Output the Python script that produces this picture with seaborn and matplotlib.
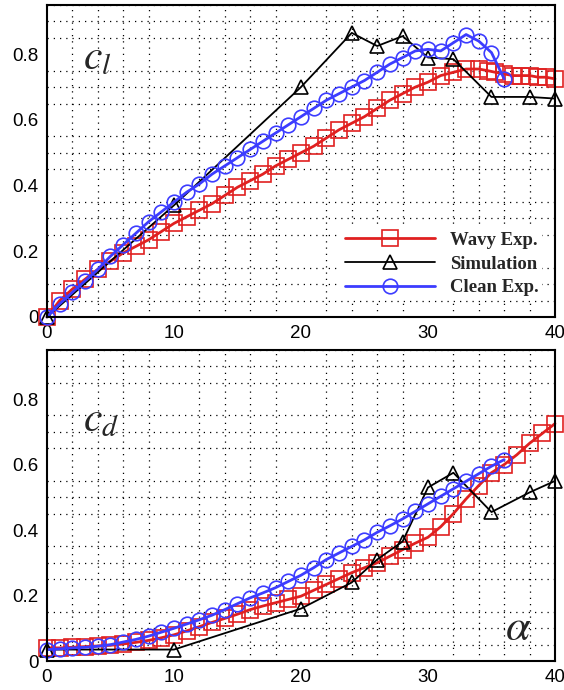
import matplotlib
matplotlib.use("Agg")
import matplotlib.pyplot as plt
from matplotlib.ticker import MultipleLocator
import seaborn as sns

# Angle of attack (deg) and coefficients
WAVY_ALPHA_CL = list(range(0, 35)) + [34.7, 35.3, 36, 36.7, 37.3, 38, 38.7, 39.3, 40]
WAVY_CL = [0.0, 0.05, 0.085, 0.115, 0.145, 0.17, 0.195, 0.215, 0.235, 0.26,
           0.285, 0.305, 0.325, 0.345, 0.37, 0.395, 0.415, 0.435, 0.46, 0.48,
           0.50, 0.52, 0.545, 0.57, 0.59, 0.61, 0.635, 0.66, 0.68, 0.70,
           0.715, 0.735, 0.745, 0.755, 0.755,
           0.75, 0.745, 0.74, 0.735, 0.735, 0.735, 0.73, 0.73, 0.725]

SIM_ALPHA = [0, 10, 20, 24, 26, 28, 30, 32, 35, 38, 40]
SIM_CL = [0.0, 0.34, 0.70, 0.865, 0.825, 0.855, 0.79, 0.785, 0.67, 0.67, 0.665]

CLEAN_ALPHA = list(range(0, 37))
CLEAN_CL = [0.0, 0.04, 0.075, 0.11, 0.145, 0.185, 0.22, 0.255, 0.29, 0.32,
            0.35, 0.38, 0.405, 0.435, 0.46, 0.485, 0.51, 0.535, 0.56, 0.585,
            0.61, 0.635, 0.66, 0.68, 0.70, 0.72, 0.745, 0.77, 0.79, 0.81,
            0.815, 0.81, 0.835, 0.86, 0.84, 0.805, 0.725]

WAVY_ALPHA_CD = list(range(0, 41))
WAVY_CD = [0.04, 0.04, 0.042, 0.044, 0.046, 0.048, 0.052, 0.057, 0.063, 0.071,
           0.08, 0.092, 0.105, 0.118, 0.13, 0.143, 0.157, 0.168, 0.178, 0.188,
           0.198, 0.216, 0.234, 0.252, 0.27, 0.285, 0.30, 0.32, 0.34, 0.36,
           0.378, 0.41, 0.45, 0.495, 0.536, 0.575, 0.60, 0.63, 0.665, 0.695,
           0.725]

SIM_CD = [0.035, 0.035, 0.16, 0.24, 0.31, 0.365, 0.53, 0.575, 0.455, 0.515, 0.55]

CLEAN_CD = [0.035, 0.037, 0.04, 0.042, 0.045, 0.05, 0.058, 0.066, 0.076, 0.088,
            0.10, 0.113, 0.126, 0.14, 0.157, 0.175, 0.193, 0.208, 0.224, 0.243,
            0.262, 0.285, 0.31, 0.33, 0.35, 0.37, 0.393, 0.413, 0.434, 0.457,
            0.48, 0.503, 0.526, 0.549, 0.572, 0.595, 0.615]

X_TICKS = [0, 10, 20, 30, 40]
X_TICK_LABELS = ["0", "10", "20", "30", "40"]
Y_TICKS = [0, 0.2, 0.4, 0.6, 0.8]
Y_TICK_LABELS = ["0", "0.2", "0.4", "0.6", "0.8"]

RED = "#e02020"
BLUE = "#3c3cff"
BLACK = "#000000"

sns.set_style("white")
plt.rcParams["font.family"] = ["Liberation Sans", "DejaVu Sans"]
plt.rcParams["mathtext.fontset"] = "stix"


def draw_series(ax, x, y, color, marker, ms, lw, label):
    sns.lineplot(x=x, y=y, ax=ax, color=color, marker=marker, markersize=ms,
                 mfc="none", mec=color, mew=1.2, lw=lw, label=label,
                 estimator=None, sort=False)


def style_axes(ax):
    ax.set_xlim(0, 40)
    ax.set_ylim(0, 0.95)
    ax.set_xticks(X_TICKS, X_TICK_LABELS)
    ax.set_yticks(Y_TICKS, Y_TICK_LABELS)
    ax.xaxis.set_minor_locator(MultipleLocator(2))
    ax.yaxis.set_minor_locator(MultipleLocator(0.05))
    ax.tick_params(which="both", direction="in", width=1.4, colors="black",
                   labelsize=13.5, pad=6)
    ax.tick_params(which="major", length=11)
    ax.tick_params(which="minor", length=7)
    ax.grid(True, which="minor", color="black", linestyle=(0, (1, 4)), linewidth=0.9)
    for s in ax.spines.values():
        s.set_visible(True)
        s.set_color("black")
        s.set_linewidth(1.5)
    ax.set_xlabel("")
    ax.set_ylabel("")


fig = plt.figure(figsize=(5.64, 6.90), dpi=100)
ax_cl = fig.add_axes([0.0833, 0.5406, 0.9007, 0.4522])
ax_cd = fig.add_axes([0.0833, 0.042, 0.9007, 0.4508])

# --- Lift coefficient ---
draw_series(ax_cl, WAVY_ALPHA_CL, WAVY_CL, RED, "s", 11, 2.0, "Wavy Exp.")
draw_series(ax_cl, SIM_ALPHA, SIM_CL, BLACK, "^", 10, 1.3, "Simulation")
draw_series(ax_cl, CLEAN_ALPHA, CLEAN_CL, BLUE, "o", 10.5, 2.0, "Clean Exp.")
style_axes(ax_cl)
ax_cl.text(0.07, 0.83, r"$c_l$", transform=ax_cl.transAxes, fontsize=30,
           ha="left", va="center")
leg = ax_cl.legend(loc="upper left", bbox_to_anchor=(0.56, 0.315),
                   frameon=True, facecolor="white", edgecolor="none",
                   framealpha=1.0, fancybox=False, handlelength=4.8,
                   handletextpad=0.8, labelspacing=0.35, borderpad=0.2,
                   prop={"family": "Liberation Serif", "weight": "bold", "size": 13.5})

# --- Drag coefficient ---
draw_series(ax_cd, WAVY_ALPHA_CD, WAVY_CD, RED, "s", 11, 2.0, None)
draw_series(ax_cd, SIM_ALPHA, SIM_CD, BLACK, "^", 10, 1.3, None)
draw_series(ax_cd, CLEAN_ALPHA, CLEAN_CD, BLUE, "o", 10.5, 2.0, None)
style_axes(ax_cd)
if ax_cd.get_legend() is not None:
    ax_cd.get_legend().remove()
ax_cd.text(0.07, 0.775, r"$c_d$", transform=ax_cd.transAxes, fontsize=30,
           ha="left", va="center")
ax_cd.text(0.927, 0.106, r"$\alpha$", transform=ax_cd.transAxes, fontsize=32,
           ha="center", va="center")

for ax in (ax_cl, ax_cd):
    for line in ax.get_lines():
        line.set_clip_on(False)

fig.savefig("out.png", dpi=100)
